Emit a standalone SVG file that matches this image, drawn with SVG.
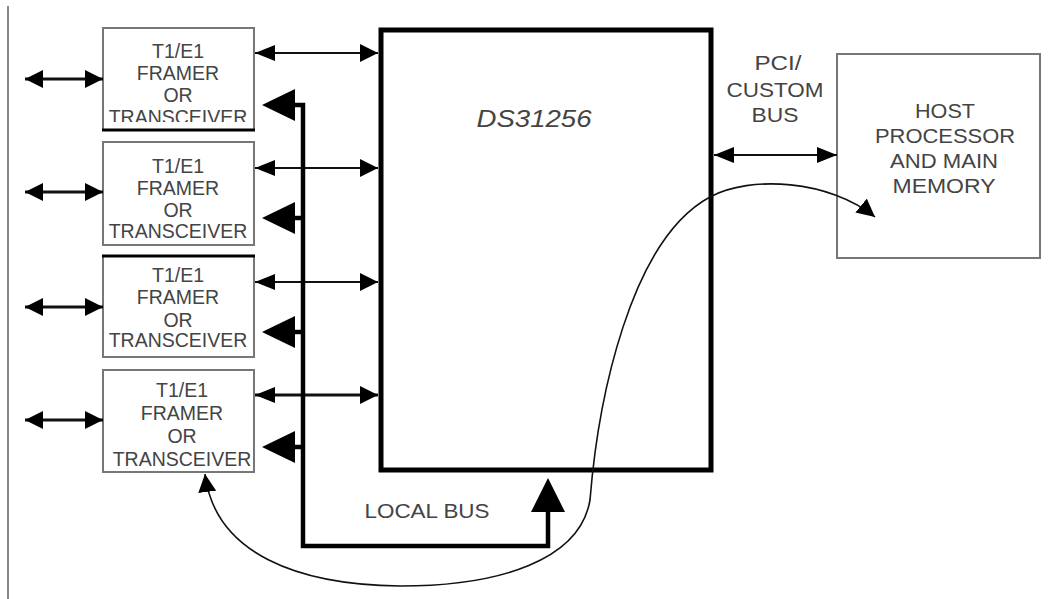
<svg xmlns="http://www.w3.org/2000/svg" width="1050" height="599" viewBox="0 0 1050 599">
<style>
  .box { fill: #fff; stroke: #777; stroke-width: 2; }
  .t { font-family: "Liberation Sans", Arial, sans-serif; fill: #444; text-anchor: middle; }
  .ft { font-size: 19.5px; }
  .big { font-size: 20px; }
  .ln { stroke: #111; fill: none; }
  .bus { stroke: #000; stroke-width: 4.5; fill: none; }
  .head { fill: #000; }
</style>
<defs>
  <marker id="ah" markerUnits="userSpaceOnUse" viewBox="0 0 18 18" markerWidth="18" markerHeight="18" refX="18" refY="9" orient="auto-start-reverse">
    <path d="M0,0 L18,9 L0,18 z" fill="#000"/>
  </marker>
  <marker id="ah2" markerUnits="userSpaceOnUse" viewBox="0 0 20 18" markerWidth="20" markerHeight="18" refX="20" refY="9" orient="auto-start-reverse">
    <path d="M0,1 L20,9 L0,17 z" fill="#000"/>
  </marker>
  <clipPath id="clip1"><rect x="103" y="28" width="152" height="94"/></clipPath>
</defs>

<line x1="8" y1="6" x2="8" y2="599" stroke="#888" stroke-width="2"/>

<g id="framer1">
  <rect class="box" x="103" y="28" width="151" height="102"/>
  <line x1="102" y1="130" x2="255" y2="130" stroke="#000" stroke-width="3"/>
  <g clip-path="url(#clip1)">
    <text class="t ft" x="178" y="58">T1/E1</text>
    <text class="t ft" x="178" y="80">FRAMER</text>
    <text class="t ft" x="178" y="102">OR</text>
    <text class="t ft" x="178" y="124">TRANSCEIVER</text>
  </g>
</g>
<g id="framer2">
  <rect class="box" x="103" y="142" width="151" height="103"/>
  <text class="t ft" x="178" y="173">T1/E1</text>
  <text class="t ft" x="178" y="195">FRAMER</text>
  <text class="t ft" x="178" y="217">OR</text>
  <text class="t ft" x="178" y="238">TRANSCEIVER</text>
</g>
<g id="framer3">
  <rect class="box" x="103" y="256" width="151" height="101"/>
  <line x1="102" y1="256" x2="255" y2="256" stroke="#000" stroke-width="3"/>
  <text class="t ft" x="178" y="282">T1/E1</text>
  <text class="t ft" x="178" y="304">FRAMER</text>
  <text class="t ft" x="178" y="327">OR</text>
  <text class="t ft" x="178" y="347">TRANSCEIVER</text>
</g>
<g id="framer4">
  <rect class="box" x="103" y="370" width="151" height="102"/>
  <text class="t ft" x="182" y="397">T1/E1</text>
  <text class="t ft" x="182" y="420">FRAMER</text>
  <text class="t ft" x="182" y="443">OR</text>
  <text class="t ft" x="182" y="466">TRANSCEIVER</text>
</g>

<g id="ds31256">
  <rect x="381" y="30" width="330" height="440" fill="#fff" stroke="#000" stroke-width="5"/>
  <text class="t" x="534" y="127" font-size="24" font-style="italic" textLength="115" lengthAdjust="spacingAndGlyphs">DS31256</text>
</g>

<g id="host">
  <rect class="box" x="837" y="54" width="203" height="204"/>
  <text class="t big" x="945" y="118" textLength="60" lengthAdjust="spacingAndGlyphs">HOST</text>
  <text class="t big" x="945" y="143" textLength="140" lengthAdjust="spacingAndGlyphs">PROCESSOR</text>
  <text class="t big" x="944" y="168" textLength="108" lengthAdjust="spacingAndGlyphs">AND MAIN</text>
  <text class="t big" x="944" y="193" textLength="103" lengthAdjust="spacingAndGlyphs">MEMORY</text>
</g>

<g id="labels">
  <text class="t" x="778" y="70" font-size="21" textLength="47" lengthAdjust="spacingAndGlyphs">PCI/</text>
  <text class="t" x="775" y="97" font-size="21" textLength="97" lengthAdjust="spacingAndGlyphs">CUSTOM</text>
  <text class="t" x="775" y="122" font-size="21" textLength="47" lengthAdjust="spacingAndGlyphs">BUS</text>
  <text class="t" x="427" y="518" font-size="21" textLength="125" lengthAdjust="spacingAndGlyphs">LOCAL BUS</text>
</g>

<g id="connectors">
  <line class="ln" x1="25" y1="79" x2="103" y2="79" stroke-width="3" marker-start="url(#ah)" marker-end="url(#ah)"/>
  <line class="ln" x1="25" y1="192" x2="103" y2="192" stroke-width="3" marker-start="url(#ah)" marker-end="url(#ah)"/>
  <line class="ln" x1="25" y1="307" x2="103" y2="307" stroke-width="3" marker-start="url(#ah)" marker-end="url(#ah)"/>
  <line class="ln" x1="25" y1="420" x2="103" y2="420" stroke-width="3" marker-start="url(#ah)" marker-end="url(#ah)"/>
  <line class="ln" x1="255" y1="53" x2="378" y2="53" stroke-width="2" marker-start="url(#ah2)" marker-end="url(#ah)"/>
  <line class="ln" x1="255" y1="168" x2="378" y2="168" stroke-width="2" marker-start="url(#ah2)" marker-end="url(#ah)"/>
  <line class="ln" x1="255" y1="282" x2="378" y2="282" stroke-width="2" marker-start="url(#ah2)" marker-end="url(#ah)"/>
  <line class="ln" x1="255" y1="395" x2="378" y2="395" stroke-width="3" marker-start="url(#ah2)" marker-end="url(#ah)"/>
  <line class="ln" x1="714" y1="155" x2="837" y2="155" stroke-width="2" marker-start="url(#ah2)" marker-end="url(#ah2)"/>
  <path class="bus" d="M294,105 H303 V546 H548 V510"/>
  <line class="bus" x1="294" y1="218" x2="303" y2="218"/>
  <line class="bus" x1="294" y1="332" x2="303" y2="332"/>
  <line class="bus" x1="294" y1="447" x2="303" y2="447"/>
  <polygon class="head" points="262,105 295,89 295,121"/>
  <polygon class="head" points="262,218 295,202 295,234"/>
  <polygon class="head" points="262,332 295,316 295,348"/>
  <polygon class="head" points="262,447 295,431 295,463"/>
  <polygon class="head" points="548,478 531,512 565,512"/>
  <path class="ln" stroke-width="1.6" d="M205,474 C215,555 300,585 400,586 C500,586 580,560 590,500 C598,400 630,240 710,197 C750,175 830,180 875,217" marker-start="url(#ah)" marker-end="url(#ah)"/>
</g>
</svg>
